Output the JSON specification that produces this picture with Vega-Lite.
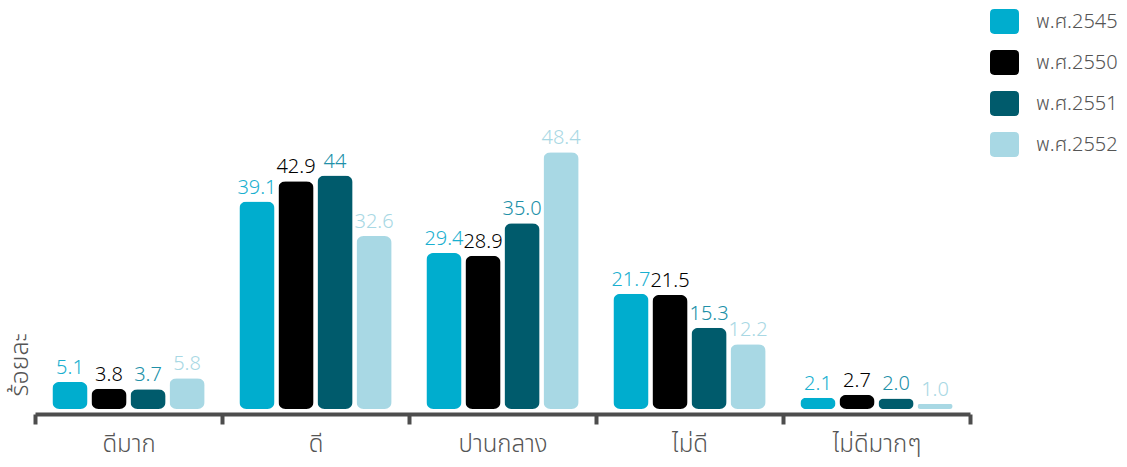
{
  "$schema": "https://vega.github.io/schema/vega-lite/v6.json",
  "autosize": {"type": "none"},
  "padding": {"left": 35, "top": 11, "right": 157, "bottom": 58},
  "width": 935,
  "height": 398,
  "config": {
    "view": {"stroke": null},
    "font": "Noto Sans Thai, Noto Sans, sans-serif"
  },
  "data": {
    "values": [
      {"category": "ดีมาก", "series": "พ.ศ.2545", "value": 5.1, "label": "5.1"},
      {"category": "ดีมาก", "series": "พ.ศ.2550", "value": 3.8, "label": "3.8"},
      {"category": "ดีมาก", "series": "พ.ศ.2551", "value": 3.7, "label": "3.7"},
      {"category": "ดีมาก", "series": "พ.ศ.2552", "value": 5.8, "label": "5.8"},
      {"category": "ดี", "series": "พ.ศ.2545", "value": 39.1, "label": "39.1"},
      {"category": "ดี", "series": "พ.ศ.2550", "value": 42.9, "label": "42.9"},
      {"category": "ดี", "series": "พ.ศ.2551", "value": 44, "label": "44"},
      {"category": "ดี", "series": "พ.ศ.2552", "value": 32.6, "label": "32.6"},
      {"category": "ปานกลาง", "series": "พ.ศ.2545", "value": 29.4, "label": "29.4"},
      {"category": "ปานกลาง", "series": "พ.ศ.2550", "value": 28.9, "label": "28.9"},
      {"category": "ปานกลาง", "series": "พ.ศ.2551", "value": 35.0, "label": "35.0"},
      {"category": "ปานกลาง", "series": "พ.ศ.2552", "value": 48.4, "label": "48.4"},
      {"category": "ไม่ดี", "series": "พ.ศ.2545", "value": 21.7, "label": "21.7"},
      {"category": "ไม่ดี", "series": "พ.ศ.2550", "value": 21.5, "label": "21.5"},
      {"category": "ไม่ดี", "series": "พ.ศ.2551", "value": 15.3, "label": "15.3"},
      {"category": "ไม่ดี", "series": "พ.ศ.2552", "value": 12.2, "label": "12.2"},
      {"category": "ไม่ดีมากๆ", "series": "พ.ศ.2545", "value": 2.1, "label": "2.1"},
      {"category": "ไม่ดีมากๆ", "series": "พ.ศ.2550", "value": 2.7, "label": "2.7"},
      {"category": "ไม่ดีมากๆ", "series": "พ.ศ.2551", "value": 2.0, "label": "2.0"},
      {"category": "ไม่ดีมากๆ", "series": "พ.ศ.2552", "value": 1.0, "label": "1.0"}
    ]
  },
  "encoding": {
    "x": {
      "field": "category", "type": "nominal", "sort": null,
      "scale": {"paddingInner": 0, "paddingOuter": 0},
      "axis": {
        "title": null, "labelAngle": 0, "offset": 5,
        "domainColor": "#4d4d4d", "domainWidth": 4,
        "tickColor": "#4d4d4d", "tickWidth": 4, "tickSize": 10, "tickBand": "extent",
        "labelFontSize": 24, "labelFontWeight": 300, "labelColor": "#555555", "labelPadding": 8
      }
    },
    "xOffset": {
      "field": "series", "type": "nominal", "sort": null,
      "scale": {"paddingInner": 0.1, "paddingOuter": 0.445}
    },
    "y": {
      "field": "value", "type": "quantitative",
      "scale": {"domain": [0, 75]},
      "axis": {
        "title": "ร้อยละ", "titleAnchor": "start", "titleFontSize": 25,
        "titleFontWeight": 300, "titleColor": "#555555", "titlePadding": 3, "titleY": 385,
        "labels": false, "ticks": false, "domain": false, "grid": false
      }
    }
  },
  "layer": [
    {
      "mark": {"type": "bar", "cornerRadius": 7},
      "encoding": {
        "color": {
          "field": "series", "type": "nominal", "sort": null,
          "scale": {"range": ["#00adce", "#000000", "#005b6c", "#a8d8e4"]},
          "legend": {
            "title": null, "orient": "none", "legendX": 955, "legendY": -4,
            "symbolType": "M-0.7,-0.86L0.7,-0.86Q1,-0.86 1,-0.56L1,0.56Q1,0.86 0.7,0.86L-0.7,0.86Q-1,0.86 -1,0.56L-1,-0.56Q-1,-0.86 -0.7,-0.86Z",
            "symbolSize": 841, "symbolStrokeWidth": 0, "symbolOpacity": 1,
            "labelFontSize": 20, "labelFontWeight": 300, "labelColor": "#555555", "labelOffset": 17,
            "rowPadding": 14, "padding": 0
          }
        }
      }
    },
    {
      "mark": {"type": "text", "baseline": "bottom", "dy": -4, "fontSize": 20, "fontWeight": 300},
      "encoding": {
        "text": {"field": "label"},
        "color": {
          "field": "series", "type": "nominal", "sort": null,
          "scale": {"range": ["#1ab0d0", "#000000", "#2090a8", "#a8d8e4"]},
          "legend": null
        }
      }
    }
  ],
  "resolve": {"scale": {"color": "independent"}}
}
